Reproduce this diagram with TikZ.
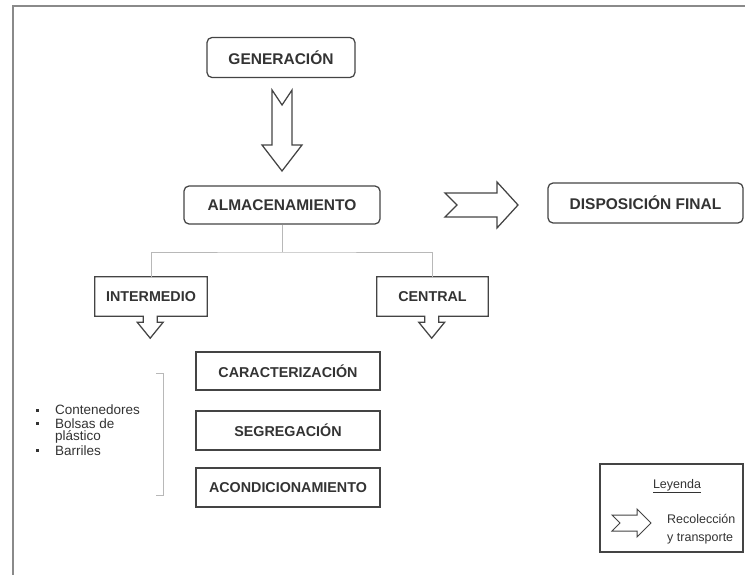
\documentclass[tikz,border=0pt]{standalone}
\usepackage{fontspec}
\setmainfont{Liberation Sans}
\definecolor{ink}{HTML}{333333}
\definecolor{edge}{HTML}{444444}
\definecolor{framec}{HTML}{8A8A8A}
\definecolor{treec}{HTML}{B8B8B8}
\tikzset{
  rbox/.style={draw=edge, line width=1.25pt, rounded corners=5pt, fill=white, text=ink,
    font=\fontsize{15.5}{18}\selectfont\bfseries, inner sep=0pt},
  sbox/.style={draw=edge, line width=1.25pt, fill=white, text=ink,
    font=\fontsize{14.3}{17}\selectfont\bfseries, inner sep=0pt},
  cbox/.style={draw=none, text=ink, font=\fontsize{14.3}{17}\selectfont\bfseries, inner sep=0pt},
  outline/.style={draw=edge, line width=1.25pt, fill=white, line join=miter},
  treeline/.style={draw=treec, line width=0.9pt},
  bullettext/.style={anchor=west, text=ink, font=\fontsize{13.5}{13.5}\selectfont, inner sep=0pt},
  bulletmark/.style={fill=ink, minimum size=3pt, inner sep=0pt},
  legtext/.style={text=ink, font=\fontsize{12.5}{17.5}\selectfont, inner sep=0pt, align=left}
}
\begin{document}
\begin{tikzpicture}[x=1pt, y=-1pt]
\useasboundingbox (0,0) rectangle (745,575);
% frame
\draw[framec, line width=1.8pt] (13,575) -- (13,6) -- (746,6);

% main boxes
\node[rbox, minimum width=148pt, minimum height=40pt] (gen) at (281,57.5) {GENERACIÓN};
\node[rbox, minimum width=196pt, minimum height=38pt] (alm) at (282,205) {ALMACENAMIENTO};
\node[rbox, minimum width=195pt, minimum height=40pt] (disp) at (645.5,203) {DISPOSICIÓN FINAL};

% big down arrow
\draw[outline] (272,90) -- (282,105) -- (292,90) -- (292,145) -- (302,145) -- (282,171)
  -- (262,145) -- (272,145) -- cycle;
% right arrow
\draw[outline] (445,193) -- (497,193) -- (497,182) -- (518,205) -- (497,228) -- (497,217)
  -- (445,217) -- (457,205) -- cycle;

% callouts
\node[cbox, minimum width=112pt, minimum height=39pt] (inter) at (151,296.5) {INTERMEDIO};
\node[cbox, minimum width=111pt, minimum height=39pt] (cen) at (432.5,296.5) {CENTRAL};
\draw[outline] (inter.south west) -- (inter.north west) -- (inter.north east) -- (inter.south east)
  -- ++(-50,0) -- ++(0,6) -- ++(6,0) -- ++(-13,16) -- ++(-13,-16) -- ++(6,0) -- ++(0,-6) -- cycle;
\draw[outline] (cen.south west) -- (cen.north west) -- (cen.north east) -- (cen.south east)
  -- ++(-49.5,0) -- ++(0,6) -- ++(6,0) -- ++(-13,16) -- ++(-13,-16) -- ++(6,0) -- ++(0,-6) -- cycle;
\node[cbox, minimum width=112pt, minimum height=39pt] at (inter) {INTERMEDIO};
\node[cbox, minimum width=111pt, minimum height=39pt] at (cen) {CENTRAL};

% tree connector
\coordinate (bar) at (282,252);
\draw[treeline] (alm.south) -- (bar);
\draw[treeline] (inter.north) |- (bar) -| (cen.north);

% lower boxes
\node[sbox, minimum width=184pt, minimum height=38pt] (car) at (288,371) {CARACTERIZACIÓN};
\node[sbox, minimum width=184pt, minimum height=39pt] (seg) at (288,430.5) {SEGREGACIÓN};
\node[sbox, minimum width=184pt, minimum height=39pt] (aco) at (288,487.5) {ACONDICIONAMIENTO};

% bracket
\draw[treec, line width=0.6pt] (156,373) -- (163,373) -- (163,495) -- (156,495);

% bullet list
\node[bullettext] (b1) at (55,410) {Contenedores};
\node[bullettext] (b2) at (55,423.5) {Bolsas de};
\node[bullettext] (b3) at (55,437) {plástico};
\node[bullettext] (b4) at (55,450.5) {Barriles};
\node[bulletmark] (m1) at (37,410) {};
\node[bulletmark] (m2) at (37,423.5) {};
\node[bulletmark] (m4) at (37,450.5) {};

% legend
\node[draw=edge, line width=1.25pt, minimum width=143pt, minimum height=88pt, inner sep=0pt] (leg) at (671.5,508) {};
\node[legtext] (legt) at (677,486) {\underline{Leyenda}};
\draw[outline, line width=1pt] (612,515) -- (637,515) -- (637,509) -- (651,523) -- (637,537) -- (637,531)
  -- (612,531) -- (620,523) -- cycle;
\node[legtext, anchor=west] (legl) at (667,529) {Recolección\\y transporte};
\end{tikzpicture}
\end{document}
